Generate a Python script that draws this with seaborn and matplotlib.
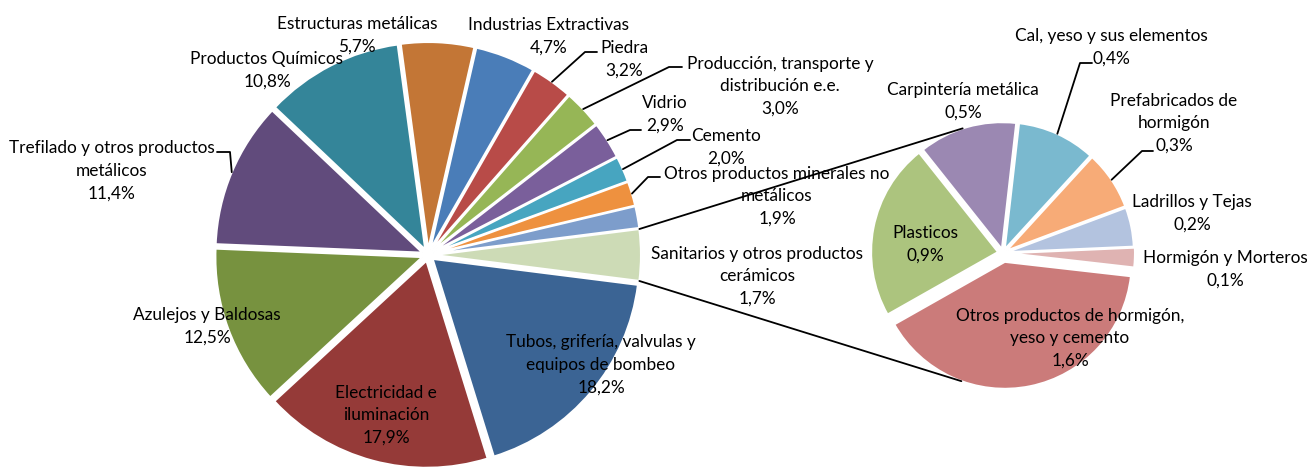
import matplotlib
matplotlib.use("Agg")
import matplotlib.pyplot as plt
import numpy as np
import seaborn as sns

# main pie, clockwise from the lower edge of the grouped wedge
main_labels = ["Tubos, grifería, valvulas y\nequipos de bombeo", "Electricidad e\niluminación",
               "Azulejos y Baldosas", "Trefilado y otros productos\nmetálicos", "Productos Químicos",
               "Estructuras metálicas", "Industrias Extractivas", "Piedra",
               "Producción, transporte y\ndistribución e.e.", "Vidrio", "Cemento",
               "Otros productos minerales no\nmetálicos", "Sanitarios y otros productos\ncerámicos"]
main_values = [18.2, 17.9, 12.5, 11.4, 10.8, 5.7, 4.7, 3.2, 3.0, 2.9, 2.0, 1.9, 1.7]

# secondary pie (detail of the grouped wedge), clockwise
sub_labels = ["Plasticos", "Carpintería metálica", "Cal, yeso y sus elementos",
              "Prefabricados de\nhormigón", "Ladrillos y Tejas", "Hormigón y Morteros",
              "Otros productos de hormigón,\nyeso y cemento"]
sub_values = [0.9, 0.5, 0.4, 0.3, 0.2, 0.1, 1.6]

main_colors = ["#3B6494", "#953A38", "#77923F", "#614B7C", "#348599", "#C37636", "#4A7DB8",
               "#B84B48", "#96B656", "#7A5F9B", "#47A5C0", "#EE913F", "#7D9DCB", "#CDDBB6"]
sub_colors = ["#ACC47E", "#9B88B2", "#7AB9CF", "#F7AB77", "#B3C3DF", "#DFB3B2", "#CB7B7A"]

sns.set_theme(style="white")
plt.rcParams["font.family"] = ["Lato", "DejaVu Sans"]

W, H = 1307, 471
fig = plt.figure(figsize=(W / 100, H / 100), dpi=100)
ax = fig.add_axes([0, 0, 1, 1])

def pct(v):
    return ("%.1f" % v).replace(".", ",") + "%"

# layout (pixel coords, y down)
main_c, main_r = (428, 255), 207
sub_c, sub_r = (1003, 253), 127
main_pos = [(601, 365), (386, 415), (207, 326), (112, 171), (267, 70), (357, 35), (549, 36),
            (624, 59), (780, 86), (665, 114), (726, 147), (777, 196), (757, 276)]
sub_pos = [(925, 244), (963, 101), (1111, 47), (1174, 123), (1192, 213), (1225, 269), (1070, 338)]
# leader lines: index -> (start x, start y, elbow x)
main_lead = {3: (217, 152, 230), 7: (597, 52, 585), 8: (682, 67, 669), 9: (641, 130, 630),
             10: (690, 140, 677), 11: (660, 177, 648)}
sub_lead = {2: (1092, 63, 1080), 3: (1153, 151, 1142)}
pitch = 22.5

grouped = sum(sub_values)
vals = main_values + [grouped]
half = grouped / sum(vals) * 180

mw, _ = ax.pie(vals, colors=main_colors, startangle=-half, counterclock=False,
               center=(main_c[0], H - main_c[1]), radius=main_r,
               explode=[6] * len(vals),
               wedgeprops=dict(edgecolor="white", linewidth=1.5))
sw, _ = ax.pie(sub_values, colors=sub_colors, startangle=209.5, counterclock=False,
               center=(sub_c[0], H - sub_c[1]), radius=sub_r,
               explode=[5, 4, 4, 4, 4, 5, 9],
               wedgeprops=dict(edgecolor="white", linewidth=1.5))

def edge_point(w, ang=None):
    if ang is None:
        ang = 0.5 * (w.theta1 + w.theta2)
    a = np.deg2rad(ang)
    return w.center[0] + w.r * np.cos(a), w.center[1] + w.r * np.sin(a)

def labels(wedges, names, values, pos, lead):
    for i, (n, v, (x, y)) in enumerate(zip(names, values, pos)):
        lines = n.split("\n") + [pct(v)]
        for k, line in enumerate(lines):
            yy = y + (k - (len(lines) - 1) / 2) * pitch
            ax.text(x, H - yy, line, ha="center", va="center",
                    fontsize=12.4, color="black", zorder=5)
        if i in lead:
            sx, sy, ex = lead[i]
            px, py = edge_point(wedges[i])
            ax.plot([sx, ex, px], [H - sy, H - sy, py], color="black", lw=1.3, zorder=4)

labels(mw, main_labels, main_values, main_pos, main_lead)
labels(sw, sub_labels, sub_values, sub_pos, sub_lead)

# connector lines between the grouped wedge and the secondary pie
g = mw[-1]
for ang_main, w_sub, ang_sub in [(g.theta2, sw[1], 108), (g.theta1, sw[6], 250)]:
    x0, y0 = edge_point(g, ang_main)
    x1, y1 = edge_point(w_sub, ang_sub)
    ax.plot([x0, x1], [y0, y1], color="black", lw=1.3, zorder=4)

ax.set_xlim(0, W)
ax.set_ylim(0, H)
ax.set_aspect("equal")
ax.axis("off")

fig.savefig("out.png", dpi=100)
